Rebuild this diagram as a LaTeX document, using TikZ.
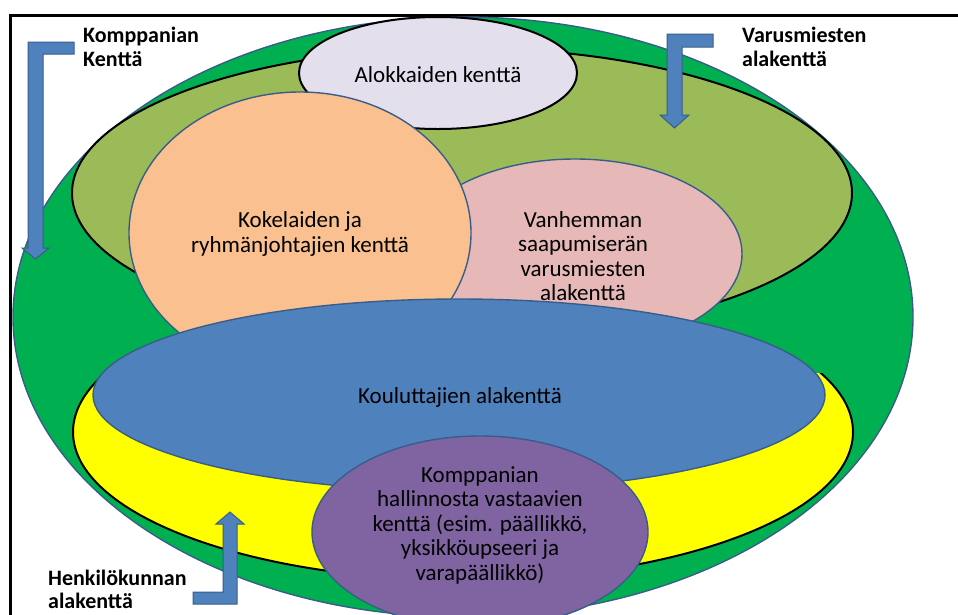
\documentclass[tikz,border=0pt]{standalone}
\usepackage{fontspec}
\setmainfont{Carlito}
\usetikzlibrary{shapes.geometric}
\definecolor{fgreen}{HTML}{00B050}
\definecolor{olivefill}{HTML}{9BBB59}
\definecolor{lav}{HTML}{E4DFEC}
\definecolor{peach}{HTML}{FAC090}
\definecolor{rose}{HTML}{E6B9B8}
\definecolor{steel}{HTML}{4F81BD}
\definecolor{yel}{HTML}{FFFF00}
\definecolor{purp}{HTML}{8064A2}
\definecolor{edgeblue}{HTML}{385D8A}
\begin{document}
\begin{tikzpicture}[x=1pt,y=-1pt,
  area/.style={ellipse, inner sep=0pt, outer sep=0pt},
  blueedge/.style={draw=edgeblue, line width=1.4pt},
  blackedge/.style={draw=black, line width=2pt},
  field/.style={font=\fontsize{23}{24.5}\selectfont, align=center, text=black, inner sep=0pt},
  lbl/.style={font=\fontsize{22}{24}\selectfont\bfseries, anchor=base west, inner sep=0pt, text=black},
  arrowshape/.style={fill=steel, draw=edgeblue, line width=1pt, line join=miter}]
\useasboundingbox (0,0) rectangle (958,614);
\clip (0,0) rectangle (958,614);
% frame
\draw[line width=3pt] (10,700) -- (10,15.5) -- (1000,15.5);
% fields
\node[area, blueedge, fill=fgreen, minimum width=900pt, minimum height=600pt] (komppania) at (463,317) {};
\begin{scope}
  \clip (0,373) rectangle (958,700);
  \node[area, blackedge, fill=yel, minimum width=780pt, minimum height=296pt] (henkilo) at (463,432) {};
\end{scope}
\node[area, blackedge, fill=olivefill, minimum width=780pt, minimum height=290pt] (varus) at (462,193) {};
\node[area, blackedge, fill=lav, minimum width=278pt, minimum height=112pt] (alok) at (438,73) {};
\node[area, blueedge, fill=rose, minimum width=334pt, minimum height=190pt] (vanh) at (575,254) {};
\node[area, blueedge, fill=peach, minimum width=342pt, minimum height=282pt] (kokel) at (300,233) {};
\node[area, blueedge, fill=steel, minimum width=732pt, minimum height=192pt] (koul) at (459,395) {};
\node[area, blueedge, fill=purp, minimum width=336pt, minimum height=192pt] (hall) at (480,532) {};
% field texts
\node[field] (alokt) at (438,75) {Alokkaiden kenttä};
\node[field] (kokelt) at (300,234) {Kokelaiden ja\\ryhmänjohtajien kenttä};
\node[field] (vanht) at (583,256) {Vanhemman\\saapumiserän\\varusmiesten\\alakenttä};
\node[field] (koult) at (460,397) {Kouluttajien alakenttä};
\node[field] (hallt) at (480,525) {Komppanian\\hallinnosta vastaavien\\kenttä (esim. päällikkö,\\yksikköupseeri ja\\varapäällikkö)};
% bent arrows
\draw[arrowshape] (74,42) -- (28,42) -- (28,248) -- (22,248) -- (35.5,259) -- (49,248) -- (43,248) -- (43,54) -- (74,54) -- cycle;
\draw[arrowshape] (713,34) -- (667,34) -- (667,115) -- (660,115) -- (674.5,128) -- (689,115) -- (682,115) -- (682,47) -- (713,47) -- cycle;
\draw[arrowshape] (230,512) -- (244,524) -- (237,524) -- (237,604) -- (193,604) -- (193,592) -- (223,592) -- (223,524) -- (216,524) -- cycle;
% labels
\node[lbl] (kompa) at (83,42) {Komppanian};
\node[lbl] (kompb) at (83,66) {Kenttä};
\node[lbl] (varusa) at (742,42) {Varusmiesten};
\node[lbl] (varusb) at (742,66) {alakenttä};
\node[lbl] (henka) at (48,585) {Henkilökunnan};
\node[lbl] (henkb) at (48,608) {alakenttä};
\end{tikzpicture}
\end{document}
